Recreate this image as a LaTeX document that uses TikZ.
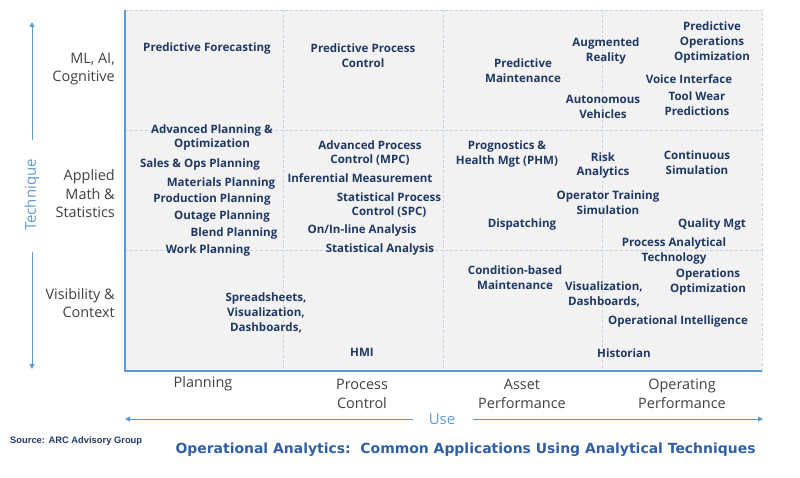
\documentclass[tikz,border=0pt]{standalone}
\usepackage{fontspec}
\setmainfont{Open Sans}
\newfontfamily\titlefont{DejaVu Sans}
\newfontfamily\srcfont{Liberation Sans}
\usetikzlibrary{arrows.meta}
\definecolor{navy}{HTML}{1F3864}
\definecolor{labgray}{HTML}{404040}
\definecolor{axblue}{HTML}{5B9BD5}
\definecolor{gridblue}{HTML}{C5D5E8}
\definecolor{panel}{HTML}{F2F2F2}
\definecolor{titleblue}{HTML}{2F5FA7}
\begin{document}
\begin{tikzpicture}[x=1bp,y=-1bp,
  cell/.style={font=\bfseries\fontsize{11.6}{15}\selectfont, text=navy, align=center, inner sep=0pt, yshift=-1.5bp},
  rowlab/.style={font=\fontsize{14.5}{18.5}\selectfont, text=labgray, align=right, anchor=east, inner sep=0pt},
  collab/.style={font=\fontsize{14.5}{19}\selectfont, text=labgray, align=center, inner sep=0pt},
  axisline/.style={draw=axblue, line width=2.5bp},
  gridline/.style={draw=gridblue, dash pattern=on 3bp off 2bp, line width=0.7bp},
  axarrow/.style={draw=axblue, line width=1bp, -{Triangle[width=5bp,length=5bp]}},
  axtext/.style={font=\fontsize{15}{18}\selectfont, text=axblue, inner sep=0pt},
]
\useasboundingbox (0,0) rectangle (800,478);
% panel
\fill[panel] (125,10) rectangle (762,371);
% grid
\coordinate (tl) at (125,10);
\coordinate (tr) at (762,10);
\coordinate (br) at (762,371);
\coordinate (bl) at (125,371);
\draw[gridline] (tl) -- (tr) -- (br);
\draw[gridline] (283,10) -- (283,371);
\draw[gridline] (443,10) -- (443,371);
\draw[gridline] (602,10) -- (602,371);
\draw[gridline] (125,130) -- (762,130);
\draw[gridline] (125,250) -- (762,250);
% axes
\draw[axisline] (tl) -- (bl) -- (br);

% row labels
\node[rowlab] (rml) at (115,69) {ML, AI,\\Cognitive};
\node[rowlab] (rmath) at (115,194) {Applied\\Math \&\\Statistics};
\node[rowlab] (rvis) at (115,303) {Visibility \&\\Context};

% column labels
\node[collab] (cplan) at (203,384) {Planning};
\node[collab] (cproc) at (362,393.5) {Process\\Control};
\node[collab] (casset) at (522,393.5) {Asset\\Performance};
\node[collab] (coper) at (682,393.5) {Operating\\Performance};

% Technique axis
\node[axtext, rotate=90] (tech) at (32,195) {Technique};
\coordinate (techup0) at (32,140);
\coordinate (techup1) at (32,22);
\coordinate (techdn0) at (32,252);
\coordinate (techdn1) at (32,369);
\draw[axarrow] (techup0) -- (techup1);
\draw[axarrow] (techdn0) -- (techdn1);

% Use axis
\node[axtext] (use) at (442,419) {Use};
\coordinate (usel0) at (413,419);
\coordinate (usel1) at (125,419);
\coordinate (user0) at (473,419);
\coordinate (user1) at (763,419);
\draw[axarrow] (usel0) -- (usel1);
\draw[axarrow] (user0) -- (user1);

% Planning column
\node[cell] (c1) at (207,47) {Predictive Forecasting};
\node[cell] (c2) at (212,136) {Advanced Planning \&\\Optimization};
\node[cell] (c3) at (200,163) {Sales \& Ops Planning};
\node[cell] (c4) at (221,182) {Materials Planning};
\node[cell] (c5) at (212,198) {Production Planning};
\node[cell] (c6) at (222,215) {Outage Planning};
\node[cell] (c7) at (234,232) {Blend Planning};
\node[cell] (c8) at (208,249) {Work Planning};
\node[cell] (c9) at (266,311) {Spreadsheets,\\Visualization,\\Dashboards,};

% Process Control column
\node[cell] (d1) at (363,54.5) {Predictive Process\\Control};
\node[cell] (d2) at (370,151.5) {Advanced Process\\Control (MPC)};
\node[cell] (d3) at (360,177) {Inferential Measurement};
\node[cell] (d4) at (389,203.5) {Statistical Process\\Control (SPC)};
\node[cell] (d5) at (362,229) {On/In-line Analysis};
\node[cell] (d6) at (380,248) {Statistical Analysis};
\node[cell] (d7) at (362,351) {HMI};

% Asset Performance column
\node[cell] (e1) at (523,69.5) {Predictive\\Maintenance};
\node[cell] (e2) at (507,152.5) {Prognostics \&\\Health Mgt (PHM)};
\node[cell] (e3) at (522,223) {Dispatching};
\node[cell] (e4) at (515,276.5) {Condition-based\\Maintenance};

% straddling asset / operating
\node[cell] (f1) at (606,49.5) {Augmented\\Reality};
\node[cell] (f2) at (603,105.5) {Autonomous\\Vehicles};
\node[cell] (f3) at (603,164) {Risk\\Analytics};
\node[cell] (f4) at (608,201.5) {Operator Training\\Simulation};
\node[cell] (f5) at (604,292.5) {Visualization,\\Dashboards,};
\node[cell] (f6) at (624,352) {Historian};

% Operating Performance column
\node[cell] (g1) at (712,41) {Predictive\\Operations\\Optimization};
\node[cell] (g2) at (689,78) {Voice Interface};
\node[cell] (g3) at (697,102) {Tool Wear\\Predictions};
\node[cell] (g4) at (697,161.5) {Continuous\\Simulation};
\node[cell] (g5) at (712,223) {Quality Mgt};
\node[cell] (g6) at (674,249.5) {Process Analytical\\Technology};
\node[cell] (g7) at (708,280.5) {Operations\\Optimization};
\node[cell] (g8) at (678,320) {Operational Intelligence};

% source & title
\node[anchor=west, inner sep=0pt, font=\srcfont\bfseries\fontsize{9.4}{11}\selectfont, text=navy] (src) at (10,441) {Source: ARC Advisory Group};
\node[inner sep=0pt, font=\titlefont\bfseries\fontsize{14}{16}\selectfont, text=titleblue] (title) at (465.5,450) {Operational Analytics:\ \ Common Applications Using Analytical Techniques};
\end{tikzpicture}
\end{document}
